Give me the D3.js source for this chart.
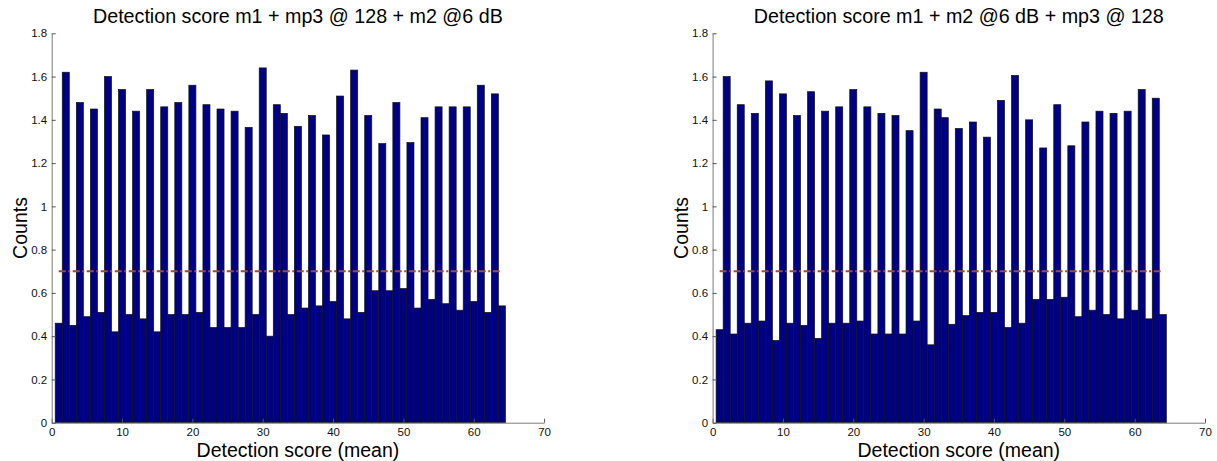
<!DOCTYPE html>
<html>
<head>
<meta charset="utf-8">
<script src="https://cdn.jsdelivr.net/npm/d3@7"></script>
<style>
  body { margin: 0; background: #fff; }
  svg { display: block; font-family: "Liberation Sans", Arial, sans-serif; }
</style>
</head>
<body>
<svg id="chart" width="1217" height="461"></svg>
<script>
// ---- data ----
const bins = d3.range(1, 65);
const leftValues = [
  0.46, 1.62, 0.45, 1.48, 0.49, 1.45, 0.51, 1.60, 0.42, 1.54, 0.50, 1.44, 0.48, 1.54, 0.42, 1.46,
  0.50, 1.48, 0.50, 1.56, 0.51, 1.47, 0.44, 1.45, 0.44, 1.44, 0.44, 1.365, 0.50, 1.64, 0.40, 1.47,
  1.43, 0.50, 1.37, 0.53, 1.42, 0.54, 1.33, 0.56, 1.51, 0.48, 1.63, 0.51, 1.42, 0.61, 1.29, 0.61,
  1.48, 0.62, 1.295, 0.53, 1.41, 0.57, 1.46, 0.55, 1.46, 0.52, 1.46, 0.56, 1.56, 0.51, 1.52, 0.54
];
const rightValues = [
  0.43, 1.60, 0.41, 1.47, 0.46, 1.43, 0.47, 1.58, 0.38, 1.52, 0.46, 1.42, 0.45, 1.53, 0.39, 1.44,
  0.46, 1.46, 0.46, 1.54, 0.47, 1.46, 0.41, 1.43, 0.41, 1.42, 0.41, 1.35, 0.47, 1.62, 0.36, 1.45,
  1.41, 0.455, 1.36, 0.495, 1.39, 0.51, 1.32, 0.51, 1.49, 0.44, 1.605, 0.46, 1.40, 0.57, 1.27, 0.57,
  1.47, 0.58, 1.28, 0.49, 1.39, 0.52, 1.44, 0.50, 1.43, 0.48, 1.44, 0.52, 1.54, 0.48, 1.50, 0.50
];
const thresholdValue = 0.7;
const thresholdRange = [1, 64];
const titles = [
  "Detection score m1 + mp3 @ 128 + m2 @6 dB",
  "Detection score m1 + m2 @6 dB + mp3 @ 128"
];
const xLabel = "Detection score (mean)";
const yLabel = "Counts";
const xTicks = [0, 10, 20, 30, 40, 50, 60, 70];
const yTicks = [0, 0.2, 0.4, 0.6, 0.8, 1, 1.2, 1.4, 1.6, 1.8];
const yTickLabels = ["0", "0.2", "0.4", "0.6", "0.8", "1", "1.2", "1.4", "1.6", "1.8"];

// ---- drawing ----
const svg = d3.select("#chart");
const panels = [
  { left: 51.7, values: leftValues, title: titles[0] },
  { left: 712.6, values: rightValues, title: titles[1] }
];
const plotW = 492.4, plotTop = 33.3, plotBottom = 422.7;

panels.forEach(p => {
  const x = d3.scaleLinear().domain([0, 70]).range([p.left, p.left + plotW]);
  const y = d3.scaleLinear().domain([0, 1.8]).range([plotBottom, plotTop]);
  const g = svg.append("g");

  // bars
  g.append("g").selectAll("rect").data(bins).join("rect")
    .attr("x", d => x(d - 0.5))
    .attr("width", d => x(d + 0.5) - x(d - 0.5))
    .attr("y", (d, i) => y(p.values[i]))
    .attr("height", (d, i) => y(0) - y(p.values[i]))
    .attr("fill", "#000084")
    .attr("stroke", "#111")
    .attr("stroke-width", 0.7);

  // threshold line
  g.append("line")
    .attr("x1", x(thresholdRange[0])).attr("x2", x(thresholdRange[1]))
    .attr("y1", y(thresholdValue)).attr("y2", y(thresholdValue))
    .attr("stroke", "#a0483c")
    .attr("stroke-width", 2)
    .attr("stroke-dasharray", "7,2.5,2,2.5");

  // axes
  const xAxis = d3.axisBottom(x).tickValues(xTicks).tickSizeInner(-4).tickSizeOuter(0).tickPadding(5).tickFormat(d3.format("d"));
  const gx = g.append("g").attr("transform", `translate(0,${plotBottom})`).call(xAxis);
  const yAxis = d3.axisLeft(y).tickValues(yTicks).tickSizeInner(-4).tickSizeOuter(0).tickPadding(4.5)
    .tickFormat((d, i) => yTickLabels[i]);
  const gy = g.append("g").attr("transform", `translate(${p.left},0)`).call(yAxis);
  [gx, gy].forEach(a => {
    a.select(".domain").attr("stroke", "#7a7a7a");
    a.selectAll(".tick line").attr("stroke", "#555");
    a.selectAll(".tick text").attr("fill", "#111").attr("font-size", "11.5px")
      .attr("font-family", "Liberation Sans, Arial, sans-serif");
  });

  // title
  g.append("text")
    .attr("x", p.left + plotW / 2).attr("y", 22.5)
    .attr("text-anchor", "middle").attr("font-size", "19.7px").attr("fill", "#000")
    .text(p.title);
  // x label
  g.append("text")
    .attr("x", p.left + plotW / 2).attr("y", 457)
    .attr("text-anchor", "middle").attr("font-size", "19.5px").attr("fill", "#000")
    .text(xLabel);
  // y label
  g.append("text")
    .attr("transform", `translate(${p.left - 25},${(plotTop + plotBottom) / 2}) rotate(-90)`)
    .attr("text-anchor", "middle").attr("font-size", "19.5px").attr("fill", "#000")
    .text(yLabel);
});
</script>
</body>
</html>
